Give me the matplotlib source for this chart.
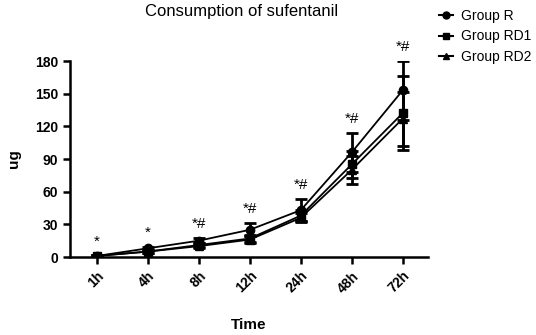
import matplotlib
matplotlib.use("Agg")
import matplotlib.pyplot as plt
from matplotlib.lines import Line2D
import numpy as np

plt.rcParams['font.family'] = ['Liberation Sans', 'DejaVu Sans']

times = ["1h", "4h", "8h", "12h", "24h", "48h", "72h"]
group_r = [1, 8, 15, 25, 43, 96, 153]
group_r_err = [0.5, 1.5, 2.5, 6, 10, 18, 27]
group_rd1 = [1, 5, 11, 17, 38, 85, 132]
group_rd1_err = [0.5, 1, 2, 3, 5, 12, 34]
group_rd2 = [1, 5, 10, 16, 36, 80, 127]
group_rd2_err = [0.5, 1, 2, 3, 4, 13, 25]
annotations = ["*", "*", "*#", "*#", "*#", "*#", "*#"]

fig = plt.figure(figsize=(5.36, 3.35), dpi=100)
ax = fig.add_axes([0.1306, 0.2328, 0.668, 0.585])
x = np.arange(len(times))

series = [("Group R", group_r, group_r_err, "o"),
          ("Group RD1", group_rd1, group_rd1_err, "s"),
          ("Group RD2", group_rd2, group_rd2_err, "^")]
handles = []
for name, vals, err, m in series:
    ax.errorbar(x, vals, yerr=err, color="black", marker=m, markersize=6,
                linewidth=1.3, elinewidth=2, capsize=4, capthick=2)
    handles.append(Line2D([], [], color="black", marker=m, markersize=5,
                          linewidth=1.5, label=name))

for xi, lab, v, e in zip(x, annotations, group_r, group_r_err):
    ax.annotate(lab, (xi, v + e), xytext=(0, 5), textcoords="offset points",
                ha="center", va="bottom", fontsize=11)

ax.set_xlim(-0.53, 6.5)
ax.set_ylim(0, 180)
ax.set_yticks([0, 30, 60, 90, 120, 150, 180])
ax.set_xticks(x)
ax.set_xticklabels(times, rotation=45, ha="right", rotation_mode="anchor",
                   fontweight="bold", fontsize=10)
for t in ax.get_yticklabels():
    t.set_fontweight("bold")
    t.set_fontsize(10)
ax.spines["top"].set_visible(False)
ax.spines["right"].set_visible(False)
ax.spines["left"].set_linewidth(1.8)
ax.spines["bottom"].set_linewidth(1.8)
ax.tick_params(direction="out", width=1.8, length=5)

ax.set_xlabel("Time", fontweight="bold", fontsize=11, labelpad=16)
ax.set_ylabel("ug", fontweight="bold", fontsize=11, labelpad=10)
fig.text(0.45, 0.965, "Consumption of sufentanil", ha="center", va="center", fontsize=12)

fig.legend(handles=handles, loc="upper left", bbox_to_anchor=(0.795, 1.01), frameon=False,
           fontsize=10, handlelength=1.0, handletextpad=0.6, labelspacing=0.45)

fig.savefig("out.png", dpi=100)
